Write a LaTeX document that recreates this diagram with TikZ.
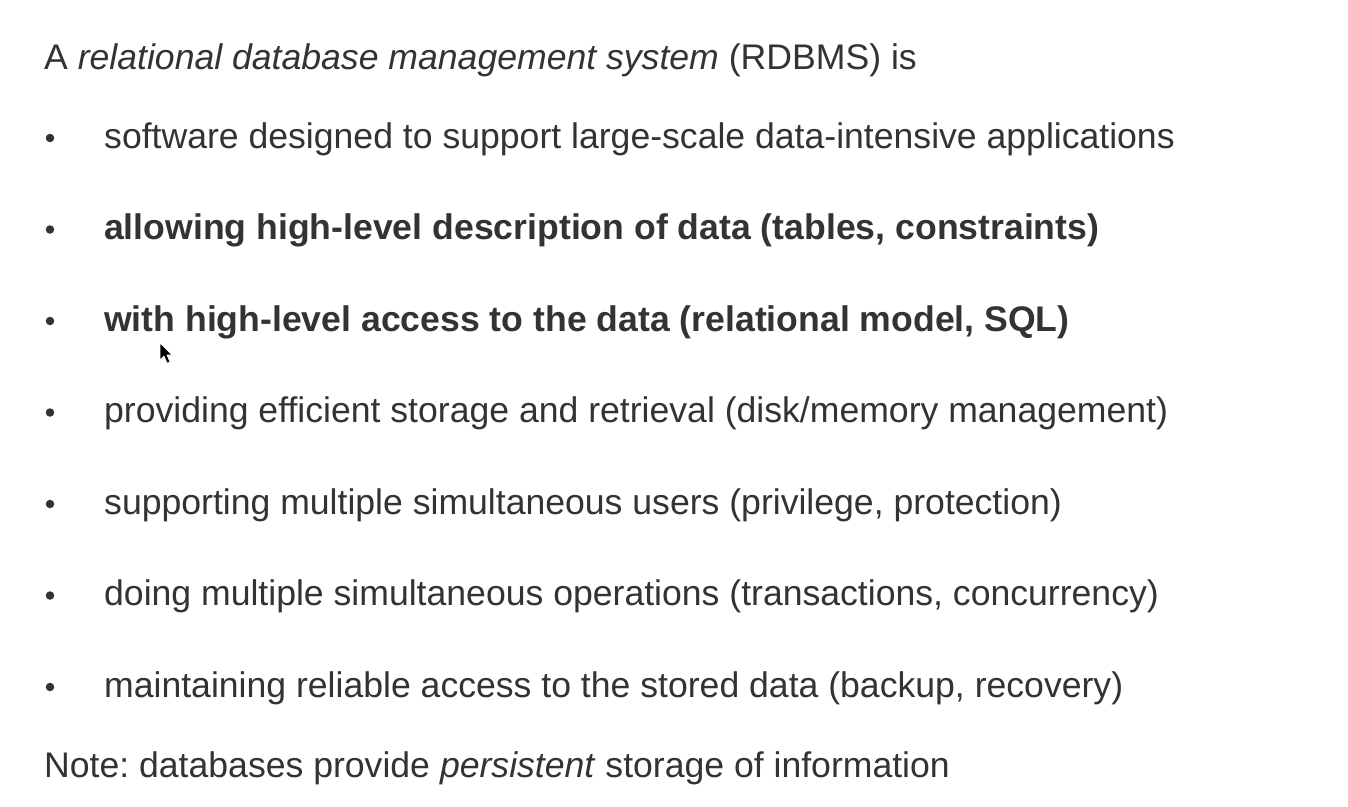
\documentclass[tikz,border=0pt]{standalone}
\usepackage{fontspec}
\setmainfont{Liberation Sans}
\definecolor{txt}{HTML}{333333}
\begin{document}
\frenchspacing
\begin{tikzpicture}[x=1pt,y=-1pt,
  line/.style={anchor=base west,inner sep=0pt,text=txt,font=\fontsize{35.6}{40}\selectfont},
  dot/.style={circle,fill=txt,inner sep=0pt,minimum size=8.5pt}]
\useasboundingbox[fill=white] (0,0) rectangle (1348,806);
\node[line] (t) at (44,69) {A \textit{relational database management system} (RDBMS) is};
\foreach \i/\txt in {0/{software designed to support large-scale data-intensive applications},
  1/{\textbf{allowing high-level description of data (tables, constraints)}},
  2/{\textbf{with high-level access to the data (relational model, SQL)}},
  3/{providing efficient storage and retrieval (disk/memory management)},
  4/{supporting multiple simultaneous users (privilege, protection)},
  5/{doing multiple simultaneous operations (transactions, concurrency)},
  6/{maintaining reliable access to the stored data (backup, recovery)}}{
  \node[line] (b\i) at (104,148+91.5*\i) {\txt};
  \node[dot] (d\i) at (50,148+91.5*\i-10) {};
}
\node[line] (n) at (44,777) {Note: databases provide \textit{persistent} storage of information};
\draw[fill=black,draw=white,line width=0.6pt,line join=round] (160,343) -- (160,360) -- (164,356) -- (167,363) -- (170,362) -- (167,355) -- (172,355) -- cycle;
\end{tikzpicture}
\end{document}
